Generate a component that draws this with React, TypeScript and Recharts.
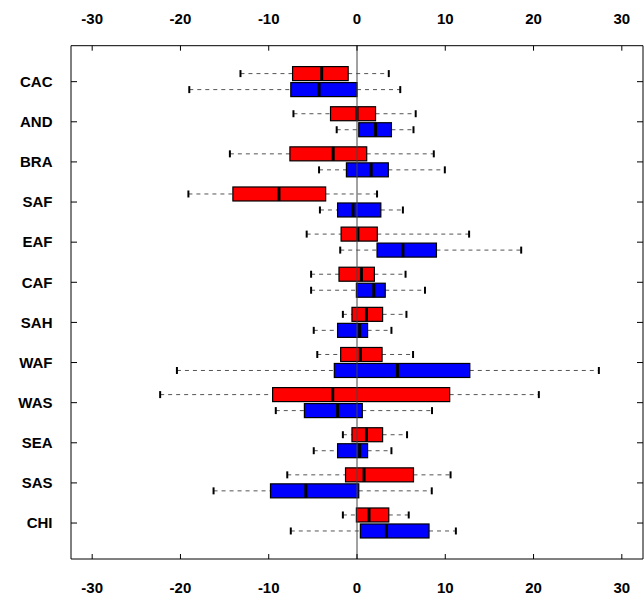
import React from 'react';
import { ComposedChart, Bar, XAxis, YAxis, ReferenceLine } from 'recharts';

const categories = ['CAC', 'AND', 'BRA', 'SAF', 'EAF', 'CAF', 'SAH', 'WAF', 'WAS', 'SEA', 'SAS', 'CHI'];

// [lower whisker, Q1, median, Q3, upper whisker]
const redStats: number[][] = [
  [-13.2, -7.3, -4.0, -1.0, 3.6],
  [-7.2, -3.0, 0.0, 2.1, 6.65],
  [-14.4, -7.6, -2.7, 1.1, 8.7],
  [-19.1, -14.06, -8.84, -3.55, 2.27],
  [-5.7, -1.8, 0.1, 2.3, 12.7],
  [-5.2, -2.04, 0.5, 1.97, 5.5],
  [-1.6, -0.57, 1.07, 2.9, 5.6],
  [-4.5, -1.85, 0.38, 2.84, 6.35],
  [-22.3, -9.56, -2.75, 10.5, 20.6],
  [-1.6, -0.57, 1.07, 2.9, 5.67],
  [-7.9, -1.3, 0.8, 6.4, 10.6],
  [-1.6, -0.07, 1.36, 3.6, 5.86],
];

const blueStats: number[][] = [
  [-19.0, -7.5, -4.3, 0.0, 4.9],
  [-2.3, 0.2, 2.1, 3.9, 6.4],
  [-4.3, -1.2, 1.6, 3.55, 9.95],
  [-4.2, -2.2, -0.45, 2.7, 5.2],
  [-1.9, 2.27, 5.2, 9.0, 18.6],
  [-5.2, -0.07, 1.9, 3.2, 7.7],
  [-4.9, -2.2, 0.3, 1.2, 3.9],
  [-20.4, -2.57, 4.58, 12.78, 27.4],
  [-9.2, -5.96, -2.2, 0.6, 8.5],
  [-4.9, -2.2, 0.3, 1.2, 3.9],
  [-16.25, -9.8, -5.8, 0.2, 8.47],
  [-7.5, 0.38, 3.33, 8.16, 11.2],
];

const xTicks = [-30, -20, -10, 0, 10, 20, 30];
const xDomain: [number, number] = [-32.4, 32.4];

const data = categories.map((name, i) => ({
  name,
  red: redStats[i],
  blue: blueStats[i],
}));

const FONT = "'Liberation Sans', Arial, Helvetica, sans-serif";

const makeBoxShape = (color: string, key: 'red' | 'blue') => (props: any) => {
  const { x, y, width, height, payload } = props;
  const st: number[] = payload[key];
  const lo = st[0];
  const hi = st[4];
  const left = Math.min(x, x + width);
  const right = Math.max(x, x + width);
  const px = (v: number) => left + ((v - lo) / (hi - lo)) * (right - left);
  const top = Math.min(y, y + height);
  const h = Math.abs(height);
  const cy = top + h / 2;
  const q1 = px(st[1]);
  const med = px(st[2]);
  const q3 = px(st[3]);
  const capHalf = 3.5;
  return (
    <g>
      <line x1={left} x2={q1} y1={cy} y2={cy} stroke="#555" strokeWidth={1} strokeDasharray="4 4" />
      <line x1={q3} x2={right} y1={cy} y2={cy} stroke="#555" strokeWidth={1} strokeDasharray="4 4" />
      <line x1={left} x2={left} y1={cy - capHalf} y2={cy + capHalf} stroke="#000" strokeWidth={2} />
      <line x1={right} x2={right} y1={cy - capHalf} y2={cy + capHalf} stroke="#000" strokeWidth={2} />
      <rect x={q1} y={top} width={q3 - q1} height={h} fill={color} stroke="#000" strokeWidth={1.2} />
      <line x1={med} x2={med} y1={top} y2={top + h} stroke="#000" strokeWidth={3} />
    </g>
  );
};

const emptyTick = () => <g />;

const tickStyle = { fill: '#000', fontSize: 15, fontWeight: 'bold', fontFamily: FONT };

export default function App() {
  return (
    <div style={{ position: 'absolute', left: 0, top: 0 }}>
      <ComposedChart
        width={644}
        height={599}
        data={data}
        layout="vertical"
        margin={{ top: 0, right: 0, bottom: 0, left: 0 }}
        barSize={14}
        barGap={2}
      >
        <XAxis
          xAxisId="top"
          orientation="top"
          type="number"
          domain={xDomain}
          ticks={xTicks}
          interval={0}
          allowDataOverflow
          height={45.7}
          tickSize={-5}
          tickMargin={27}
          axisLine={{ stroke: '#000', strokeWidth: 1 }}
          tickLine={{ stroke: '#000', strokeWidth: 1 }}
          tick={tickStyle}
        />
        <XAxis
          xAxisId="bottom"
          orientation="bottom"
          type="number"
          domain={xDomain}
          ticks={xTicks}
          interval={0}
          allowDataOverflow
          height={40}
          tickSize={-5}
          tickMargin={28}
          axisLine={{ stroke: '#000', strokeWidth: 1 }}
          tickLine={{ stroke: '#000', strokeWidth: 1 }}
          tick={tickStyle}
        />
        <YAxis
          yAxisId="left"
          orientation="left"
          type="category"
          dataKey="name"
          scale="band"
          width={71}
          interval={0}
          padding={{ top: 15.9, bottom: 15.9 }}
          tickSize={-6}
          tickMargin={24.5}
          axisLine={{ stroke: '#000', strokeWidth: 1 }}
          tickLine={{ stroke: '#000', strokeWidth: 1 }}
          tick={tickStyle}
        />
        <YAxis
          yAxisId="right"
          orientation="right"
          type="category"
          dataKey="name"
          scale="band"
          width={1}
          interval={0}
          padding={{ top: 15.9, bottom: 15.9 }}
          tickSize={-6}
          axisLine={{ stroke: '#000', strokeWidth: 1 }}
          tickLine={{ stroke: '#000', strokeWidth: 1 }}
          tick={emptyTick}
        />
        <ReferenceLine xAxisId="bottom" yAxisId="left" x={0} stroke="#444" strokeWidth={1} />
        <Bar
          xAxisId="bottom"
          yAxisId="left"
          dataKey={(d: any) => [d.red[0], d.red[4]]}
          shape={makeBoxShape('#ff0000', 'red')}
          isAnimationActive={false}
        />
        <Bar
          xAxisId="bottom"
          yAxisId="left"
          dataKey={(d: any) => [d.blue[0], d.blue[4]]}
          shape={makeBoxShape('#0000ff', 'blue')}
          isAnimationActive={false}
        />
      </ComposedChart>
    </div>
  );
}
